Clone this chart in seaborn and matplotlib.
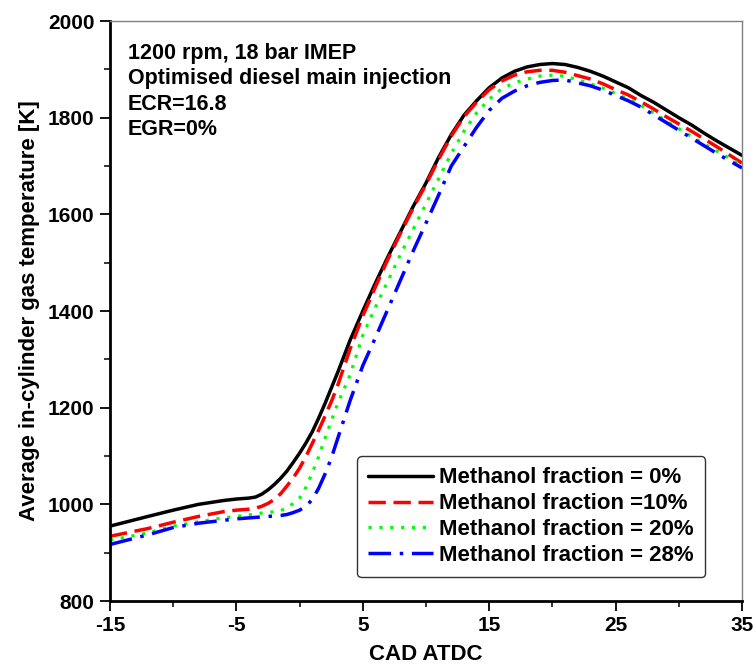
import matplotlib
matplotlib.use("Agg")
import matplotlib.pyplot as plt
import seaborn as sns
import pandas as pd
import numpy as np

# ---- data ----
cad = [-15, -12, -10, -8, -6, -5, -4, -3.5, -3, -2.5, -2, -1.5, -1, -0.5, 0, 0.5,
       1, 1.5, 2, 2.5, 3, 4, 5, 6, 7, 8, 9, 10,
       11, 12, 13, 14, 15, 16, 17, 18, 19, 20, 21, 22, 23, 24, 25, 26, 27, 28, 29,
       30, 31, 32, 33, 34, 35]

temp_0 = [955, 975, 988, 1000, 1008, 1011, 1013, 1015, 1021, 1030, 1041, 1054, 1069,
          1087, 1106, 1127, 1150, 1178, 1208, 1240, 1272, 1340, 1400, 1458, 1513,
          1565, 1617, 1665, 1718, 1765, 1805, 1835,
          1862, 1882, 1896, 1905, 1910, 1912, 1910, 1904, 1896, 1886, 1874, 1862,
          1846, 1832, 1816, 1800, 1785, 1768, 1752, 1737, 1722]
temp_10 = [934, 950, 963, 975, 985, 988, 990, 992, 996, 1002, 1010, 1022, 1038,
           1055, 1075, 1099, 1126, 1153, 1182, 1212, 1245, 1322, 1390, 1450, 1508,
           1562, 1614, 1662, 1714, 1762, 1802, 1832,
           1858, 1876, 1888, 1895, 1898, 1898, 1894, 1887, 1880, 1870, 1858, 1847,
           1833, 1818, 1802, 1787, 1772, 1756, 1740, 1723, 1706]
temp_20 = [926, 941, 955, 964, 972, 975, 978, 980, 982, 983, 985, 987, 993,
           1002, 1013, 1035, 1065, 1098, 1136, 1172, 1208, 1268, 1350, 1408, 1463,
           1518, 1570, 1622, 1674, 1726, 1772, 1810,
           1838, 1860, 1872, 1880, 1886, 1888, 1886, 1878, 1870, 1861, 1850, 1838,
           1825, 1810, 1793, 1777, 1761, 1746, 1731, 1716, 1701]
temp_28 = [917, 937, 952, 961, 967, 970, 972, 973, 974, 975, 976, 977, 979,
           983, 988, 996, 1010, 1033, 1062, 1095, 1135, 1215, 1287, 1345, 1405,
           1465, 1525, 1582, 1640, 1700, 1740, 1780,
           1815, 1840, 1855, 1866, 1873, 1877, 1878, 1872, 1866, 1857, 1846, 1835,
           1822, 1806, 1790, 1774, 1758, 1742, 1726, 1711, 1696]

labels = ["Methanol fraction = 0%", "Methanol fraction =10%",
          "Methanol fraction = 20%", "Methanol fraction = 28%"]
series = [temp_0, temp_10, temp_20, temp_28]

annotation = "1200 rpm, 18 bar IMEP\nOptimised diesel main injection\nECR=16.8\nEGR=0%"
xticks = [-15, -5, 5, 15, 25, 35]
yticks = [800, 1000, 1200, 1400, 1600, 1800, 2000]

# ---- styling ----
sns.set_theme(style="white")
plt.rcParams['font.family'] = ['Liberation Sans', 'DejaVu Sans']
plt.rcParams['font.weight'] = 'bold'
plt.rcParams['axes.unicode_minus'] = False
plt.rcParams['text.color'] = 'black'
plt.rcParams['axes.labelcolor'] = 'black'
plt.rcParams['xtick.color'] = 'black'
plt.rcParams['ytick.color'] = 'black'

colors = ["#000000", "#ff0000", "#00ff00", "#0000ff"]
dash_styles = [(None, None), (5, 2.2), (1, 2.4), (6.5, 2.5, 1, 2.5)]
widths = [2.5, 2.5, 2.3, 2.5]

df = pd.concat([pd.DataFrame({"CAD": cad, "T": s, "series": lab})
                for s, lab in zip(series, labels)], ignore_index=True)

fig = plt.figure(figsize=(7.56, 6.69), dpi=100)
ax = fig.add_axes([0.1455, 0.1016, 0.836, 0.867])

for lab, col, ds, lw in zip(labels, colors, dash_styles, widths):
    sub = df[df["series"] == lab]
    sns.lineplot(data=sub, x="CAD", y="T", ax=ax, color=col, linewidth=lw,
                 label=lab, sort=False)
    line = ax.get_lines()[-1]
    if ds[0] is None:
        line.set_linestyle("-")
    else:
        line.set_linestyle((0, ds))
    line.set_solid_joinstyle("round")
    line.set_dash_joinstyle("round")

ax.set_xlim(-15, 35)
ax.set_ylim(800, 2000)
ax.set_xticks(xticks)
ax.set_yticks(yticks)
ax.set_xticks([-10, 0, 10, 20, 30], minor=True)
ax.set_yticks([900, 1100, 1300, 1500, 1700, 1900], minor=True)
ax.tick_params(axis="both", which="major", direction="out", length=7, width=1.3,
               labelsize=15, color="black", labelcolor="black",
               bottom=True, left=True, pad=4)
ax.tick_params(axis="both", which="minor", direction="out", length=4, width=1.1,
               color="black", bottom=True, left=True)
for t in ax.get_xticklabels() + ax.get_yticklabels():
    t.set_fontweight("bold")

for side in ["left", "bottom"]:
    ax.spines[side].set_color("black")
    ax.spines[side].set_linewidth(2.0)
for side in ["top", "right"]:
    ax.spines[side].set_color("#808080")
    ax.spines[side].set_linewidth(1.0)

ax.set_xlabel("CAD ATDC", fontsize=16, fontweight="bold", labelpad=6,
              color="black")
ax.set_ylabel("Average in-cylinder gas temperature [K]", fontsize=16,
              fontweight="bold", labelpad=6, color="black")

ax.text(0.028, 0.962, annotation, transform=ax.transAxes, fontsize=15.5,
        fontweight="bold", va="top", ha="left", linespacing=1.27,
        color="black")

leg = ax.legend(loc="lower left", bbox_to_anchor=(0.391, 0.041),
                frameon=True, fancybox=True, fontsize=16, handlelength=2.9,
                handletextpad=0.3, labelspacing=0.22, borderpad=0.5,
                borderaxespad=0)
leg.get_frame().set_edgecolor("black")
leg.get_frame().set_linewidth(1.0)
for t in leg.get_texts():
    t.set_fontweight("bold")
    t.set_color("black")

fig.savefig("out.png", dpi=100)
